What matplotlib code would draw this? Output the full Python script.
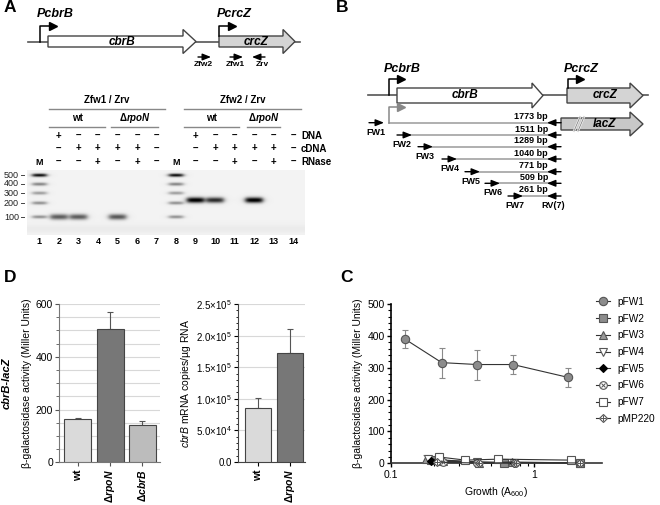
import numpy as np
import matplotlib
matplotlib.use("Agg")
from matplotlib import pyplot as plt
from matplotlib.patches import Polygon
from matplotlib.ticker import MultipleLocator, FuncFormatter, NullFormatter
from matplotlib.legend_handler import HandlerTuple

plt.rcParams['font.family'] = ['Liberation Sans', 'DejaVu Sans']
plt.rcParams['mathtext.fontset'] = 'custom'
plt.rcParams['mathtext.rm'] = 'Liberation Sans'
plt.rcParams['mathtext.it'] = 'Liberation Sans:italic'
plt.rcParams['mathtext.bf'] = 'Liberation Sans:bold'
plt.rcParams['mathtext.bfit'] = 'Liberation Sans:italic:bold'

W, H = 660, 505

# ---- gel (panel A) ----
lane_numbers = list(range(1, 15))
marker_lanes = [1, 8]
ladder_sizes = [500, 400, 300, 200, 100]
ladder_strength = [0.95, 0.45, 0.35, 0.4, 0.4]
dna_signs = ['+', '–', '–', '–', '–', '–']
cdna_signs = ['–', '+', '+', '+', '+', '–']
rnase_signs = ['–', '–', '+', '–', '+', '–']
product_lanes = [2, 3, 5, 9, 10, 12]
product_sizes = [90, 90, 90, 225, 225, 225]
product_strength = [0.6, 0.6, 0.62, 1.0, 0.8, 1.0]

# ---- fragments (panel B) ----
fragment_names = ['FW1', 'FW2', 'FW3', 'FW4', 'FW5', 'FW6', 'FW7']
fragment_bp = ['1773 bp', '1511 bp', '1289 bp', '1040 bp', '771 bp', '509 bp', '261 bp']

# ---- panel C ----
series = ['pFW1', 'pFW2', 'pFW3', 'pFW4', 'pFW5', 'pFW6', 'pFW7', 'pMP220']
growth = {
    'pFW1': [0.125, 0.226, 0.40, 0.71, 1.71],
    'pFW2': [0.19, 0.61, 2.1],
    'pFW3': [0.175, 0.23, 0.41, 0.70, 2.1],
    'pFW4': [0.18, 0.40, 0.72],
    'pFW5': [0.19, 0.40, 0.72],
    'pFW6': [0.23, 0.40, 0.73],
    'pFW7': [0.215, 0.33, 0.56, 1.8],
    'pMP220': [0.21, 0.41, 0.74, 2.1],
}
activity = {
    'pFW1': [390, 316, 310, 310, 270],
    'pFW2': [10, 2, 1],
    'pFW3': [15, 8, 2, 4, 1],
    'pFW4': [14, 3, 2],
    'pFW5': [8, 1, 1],
    'pFW6': [4, 2, 2],
    'pFW7': [20, 10, 13, 10],
    'pMP220': [3, 1, 2, 1],
}
activity_err = {
    'pFW1': [28, 47, 47, 31, 30],
    'pFW2': [3, 1, 1],
    'pFW3': [10, 3, 1, 2, 1],
    'pFW4': [8, 2, 1],
    'pFW5': [2, 1, 1],
    'pFW6': [2, 1, 1],
    'pFW7': [12, 3, 3, 2],
    'pMP220': [1, 1, 1, 1],
}

# ---- panel D ----
strains_lacz = ['wt', r'$\mathbf{\Delta}\mathbfit{rpoN}$', r'$\mathbf{\Delta}\mathbfit{cbrB}$']
lacz_activity = [165, 507, 140]
lacz_err = [3, 63, 18]
strains_mrna = ['wt', r'$\mathbf{\Delta}\mathbfit{rpoN}$']
mrna_copies = [8.6e4, 1.73e5]
mrna_err = [1.5e4, 3.7e4]


def px_axes(fig, l, t, r, b):
    return fig.add_axes([l / W, 1 - b / H, (r - l) / W, (b - t) / H])


def gene(ax, x0, head, tip, yc, bh, hh, fc):
    pts = [(x0, yc - bh), (head, yc - bh), (head, yc - hh), (tip, yc),
           (head, yc + hh), (head, yc + bh), (x0, yc + bh)]
    ax.add_patch(Polygon(pts, closed=True, fc=fc, ec='#444444', lw=1.0, zorder=3))


def promoter(ax, x, ybase, ytop, xend, color='black'):
    ax.plot([x, x, xend - 4], [ybase, ytop, ytop], color=color, lw=1.1, zorder=4)
    ax.plot([xend - 2], [ytop], marker='>', ms=5.5, color=color, mec=color, zorder=4)


def primer(ax, x0, x1, y, color='black', lw=1.0):
    ax.annotate('', xy=(x1, y), xytext=(x0, y),
                arrowprops=dict(arrowstyle='-|>,head_length=0.5,head_width=0.2',
                                color=color, lw=lw, shrinkA=0, shrinkB=0), zorder=5)


fig = plt.figure(figsize=(6.6, 5.05), dpi=100)

ov = fig.add_axes([0, 0, 1, 1])
ov.axis('off')

bold = dict(fontweight='bold')
for lab, x, y in [('A', 4, 8), ('B', 336, 8), ('C', 340, 277), ('D', 4, 278)]:
    ov.text(x, y, lab, fontsize=12.5, ha='left', va='center', **bold)

# ===== panel A diagram =====
ov.plot([28, 300], [42, 42], color='#555555', lw=1.2, zorder=1)
gene(ov, 48, 183, 196, 41.5, 5.5, 12, 'white')
gene(ov, 219, 283, 295, 41.5, 5.5, 12, '#d4d4d4')
ov.text(122, 42, 'cbrB', fontsize=8.5, ha='center', va='center', style='italic', zorder=5, **bold)
ov.text(256, 42, 'crcZ', fontsize=8.5, ha='center', va='center', style='italic', zorder=5, **bold)
promoter(ov, 40, 42, 26, 55)
promoter(ov, 219, 36, 26, 234)
ov.text(37, 14, 'PcbrB', fontsize=9, style='italic', va='center', **bold)
ov.text(217, 14, 'PcrcZ', fontsize=9, style='italic', va='center', **bold)
primer(ov, 198, 211, 57)
primer(ov, 230, 243, 57)
primer(ov, 265, 252, 57)
for t, x in [('Zfw2', 203), ('Zfw1', 235), ('Zrv', 262)]:
    ov.text(x, 65, t, fontsize=6, ha='center', va='center', **bold)

# gel header
ov.text(107, 100, 'Zfw1 / Zrv', fontsize=7, ha='center', va='center', **bold)
ov.text(243, 100, 'Zfw2 / Zrv', fontsize=7, ha='center', va='center', **bold)
ov.plot([49, 165], [109, 109], color='#888888', lw=1)
ov.plot([184, 301], [109, 109], color='#888888', lw=1)
for x0, x1, lab in [(49, 105, 'wt'), (111, 158, r'$\mathbf{\Delta}\mathbfit{rpoN}$'),
                    (184, 239, 'wt'), (247, 280, r'$\mathbf{\Delta}\mathbfit{rpoN}$')]:
    ov.plot([x0, x1], [127, 127], color='#888888', lw=1)
    ov.text((x0 + x1) / 2, 118, lab, fontsize=7, ha='center', va='center', **bold)

lane_x = {n: 39.3 + (n - 1) * 19.54 for n in lane_numbers}
sample_lanes = [2, 3, 4, 5, 6, 7]
for block in (0, 7):
    for i, n in enumerate(sample_lanes):
        x = lane_x[n + block]
        ov.text(x, 136, dna_signs[i], fontsize=7, ha='center', va='center', **bold)
        ov.text(x, 148.5, cdna_signs[i], fontsize=7, ha='center', va='center', **bold)
        ov.text(x, 162, rnase_signs[i], fontsize=7, ha='center', va='center', **bold)
for n in marker_lanes:
    ov.text(lane_x[n], 162.5, 'M', fontsize=6.5, ha='center', va='center', **bold)
for t, y in [('DNA', 136), ('cDNA', 148.5), ('RNase', 162)]:
    ov.text(301, y, t, fontsize=7, ha='left', va='center', **bold)
for n in lane_numbers:
    ov.text(lane_x[n], 242, str(n), fontsize=6.5, ha='center', va='center', **bold)

# gel image
ladder_y = [175, 184, 193, 203, 217]
ladder_map = dict(zip(ladder_sizes, ladder_y))


def size_to_y(s):
    lg = np.log10(ladder_sizes[::-1])
    return float(np.interp(np.log10(s), lg, ladder_y[::-1]))


gx = np.linspace(27, 305, 556)
gy = np.linspace(170, 235, 130)
GX, GY = np.meshgrid(gx, gy)
gel = np.full_like(GX, 0.95)
gel -= 0.03 * np.exp(-((GY - 229) / 4) ** 2)


def band(lane, y, strength, hw=8.0, sig=2.4):
    xs = 1 / (1 + np.exp((np.abs(GX - lane_x[lane]) - hw) / 1.5))
    return strength * xs * np.exp(-((GY - y) / sig) ** 2)


for n in marker_lanes:
    for s, k in zip(ladder_sizes, ladder_strength):
        gel -= band(n, ladder_map[s], k, hw=7.0, sig=1.6)
for n, s, k in zip(product_lanes, product_sizes, product_strength):
    gel -= band(n, size_to_y(s), k, hw=8.5, sig=2.8)
gel = np.clip(gel, 0, 1)
ov.imshow(gel, cmap='gray', vmin=0, vmax=1, extent=(27, 305, 235, 170),
          aspect='auto', interpolation='bilinear', zorder=0)
ov.set_xlim(0, W)
ov.set_ylim(H, 0)
for s, y in zip(ladder_sizes, ladder_y):
    ov.text(19, y, str(s), fontsize=6.5, ha='right', va='center', color='#222222')
    ov.plot([21, 24], [y, y], color='#444444', lw=0.7)

# ===== panel B diagram =====
ov.plot([368, 648], [95, 95], color='#555555', lw=1.2, zorder=1)
gene(ov, 397, 532, 543, 95.5, 7.5, 12.5, 'white')
gene(ov, 567, 630, 643, 95.5, 7.5, 12.5, '#d4d4d4')
ov.text(465, 95.5, 'cbrB', fontsize=8.5, ha='center', va='center', style='italic', zorder=5, **bold)
ov.text(605, 95.5, 'crcZ', fontsize=8.5, ha='center', va='center', style='italic', zorder=5, **bold)
promoter(ov, 388.5, 95, 79, 403)
promoter(ov, 567.5, 88, 79, 582)
ov.text(384, 69, 'PcbrB', fontsize=9, style='italic', va='center', **bold)
ov.text(564, 69, 'PcrcZ', fontsize=9, style='italic', va='center', **bold)
promoter(ov, 388.5, 122.7, 107, 403, color='#888888')
gene(ov, 561, 630, 643, 124, 6, 12, '#c8c8c8')
for dx in (0, 4):
    ov.plot([574 + dx, 580 + dx], [131, 117], color='#f0f0f0', lw=1.6, zorder=6)
    ov.plot([574 + dx, 580 + dx], [131, 117], color='#777777', lw=0.5, zorder=6)
ov.text(604, 124, 'lacZ', fontsize=8.5, ha='center', va='center', style='italic', zorder=7, **bold)

row_y = [122.7, 135, 146.7, 159, 171.7, 183.3, 196]
fw_x = [369, 397, 418, 442, 465, 485, 508]
label_x = [376, 402, 425, 450, 471, 493, 515]
for i, (name, bp) in enumerate(zip(fragment_names, fragment_bp)):
    y = row_y[i]
    x0 = fw_x[i]
    start = 388.5 if i == 0 else x0 + 14
    ov.plot([start, 555], [y, y], color='#9a9a9a', lw=1.1, zorder=2)
    primer(ov, x0, x0 + 15, y)
    primer(ov, 561, 547, y)
    ov.text(548, y - 6, bp, fontsize=6.5, ha='right', va='center', **bold)
    ov.text(label_x[i], y + 9.5, name, fontsize=6.5, ha='center', va='center', **bold)
ov.text(553, 205.7, 'RV(7)', fontsize=6.5, ha='center', va='center', **bold)

# ===== panel C =====
axc = px_axes(fig, 391, 304, 602, 463.3)
axc.set_xscale('log')
axc.set_xlim(0.1, 2.97)
axc.set_ylim(0, 500)
styles = {
    'pFW1': [dict(marker='o', mfc='#8c8c8c', mec='#555555', ms=6)],
    'pFW2': [dict(marker='s', mfc='#8c8c8c', mec='#555555', ms=5.5)],
    'pFW3': [dict(marker='^', mfc='#9a9a9a', mec='#555555', ms=5.5)],
    'pFW4': [dict(marker='v', mfc='white', mec='#555555', ms=5.5)],
    'pFW5': [dict(marker='D', mfc='black', mec='black', ms=4)],
    'pFW6': [dict(marker='o', mfc='white', mec='#555555', ms=5.5),
             dict(marker='x', mfc='none', mec='#555555', ms=3.5)],
    'pFW7': [dict(marker='s', mfc='white', mec='#555555', ms=5.5)],
    'pMP220': [dict(marker='D', mfc='white', mec='#555555', ms=4.5),
               dict(marker='+', mfc='none', mec='#555555', ms=4.5)],
}
handles = []
for s in series:
    x = growth[s]
    y = activity[s]
    axc.errorbar(x, y, yerr=activity_err[s], fmt='none', ecolor='#8a8a8a',
                 elinewidth=0.8, capsize=2.5, capthick=0.8, zorder=3, clip_on=False)
    st = styles[s]
    h0, = axc.plot(x, y, color='#333333', lw=0.8, mew=0.8, zorder=4, clip_on=False, **st[0])
    parts = [h0]
    for extra in st[1:]:
        h1, = axc.plot(x, y, ls='none', mew=0.7, zorder=5, clip_on=False, **extra)
        parts.append(h1)
    handles.append(tuple(parts))
axc.legend(handles, series, handler_map={tuple: HandlerTuple(ndivide=1, pad=0)},
           loc='upper left', bbox_to_anchor=(596 / W, 1 - 297 / H),
           bbox_transform=fig.transFigure, frameon=False, fontsize=7.3,
           handlelength=1.4, handletextpad=0.7, labelspacing=0.66, borderaxespad=0,
           borderpad=0)
for sp in ('top', 'right'):
    axc.spines[sp].set_visible(False)
axc.spines['left'].set_linewidth(1.2)
axc.spines['bottom'].set_linewidth(1.2)
axc.spines['bottom'].set_color('#333333')
axc.yaxis.set_major_locator(MultipleLocator(100))
axc.yaxis.set_minor_locator(MultipleLocator(20))
axc.xaxis.set_major_formatter(FuncFormatter(lambda v, p: '%g' % v))
axc.xaxis.set_minor_formatter(NullFormatter())
axc.tick_params(labelsize=7.5, length=3, width=1, pad=1.5)
axc.tick_params(which='minor', length=2, width=0.8)
axc.set_ylabel('β-galactosidase activity (Miller Units)', fontsize=7.5, labelpad=3)
axc.set_xlabel('Growth (A$_{600}$)', fontsize=7.5, labelpad=4)

# ===== panel D left =====
axd = px_axes(fig, 59.3, 304, 160, 462.3)
pos = np.arange(len(strains_lacz))
axd.bar(pos, lacz_activity, width=0.84, color=['#dadada', '#777777', '#bcbcbc'],
        edgecolor='#444444', lw=0.8, zorder=3)
axd.errorbar(pos, lacz_activity, yerr=[[0] * 3, lacz_err], fmt='none', ecolor='#555555',
             elinewidth=0.8, capsize=2.5, capthick=0.8, zorder=2)
axd.set_xlim(-0.58, 2.55)
axd.set_ylim(0, 600)
axd.yaxis.set_major_locator(MultipleLocator(200))
axd.yaxis.set_minor_locator(MultipleLocator(50))
axd.grid(axis='y', which='both', color='#d8d8d8', lw=0.8, zorder=0)
axd.set_axisbelow(True)
for sp in ('top', 'right'):
    axd.spines[sp].set_visible(False)
axd.spines['left'].set_color('#777777')
axd.spines['bottom'].set_color('#777777')
axd.set_xticks(pos)
axd.set_xticklabels(strains_lacz, rotation=90, fontsize=7.5, fontweight='bold')
axd.tick_params(axis='y', labelsize=7.5, length=3, pad=1.5, color='#555555')
axd.tick_params(axis='y', which='minor', length=2, color='#555555')
axd.tick_params(axis='x', length=3, pad=2, color='#555555')
axd.set_ylabel('β-galactosidase activity (Miller Units)', fontsize=7.5, labelpad=3)
fig.text(7 / W, 1 - 383 / H, 'cbrB-lacZ', rotation=90, fontsize=8, fontweight='bold',
         style='italic', ha='center', va='center')

# ===== panel D right =====
axr = px_axes(fig, 238.3, 304, 305, 462)
pos2 = np.arange(len(strains_mrna))
axr.bar(pos2, mrna_copies, width=0.8, color=['#dadada', '#777777'],
        edgecolor='#444444', lw=0.8, zorder=3)
axr.errorbar(pos2, mrna_copies, yerr=[[0, 0], mrna_err], fmt='none', ecolor='#555555',
             elinewidth=0.8, capsize=2.5, capthick=0.8, zorder=2)
axr.set_xlim(-0.6, 1.45)
axr.set_ylim(0, 2.5e5)
axr.yaxis.set_major_locator(MultipleLocator(5e4))
axr.yaxis.set_minor_locator(MultipleLocator(1e4))


def sci(v, p):
    if v <= 0:
        return '0.0'
    e = int(np.floor(np.log10(v)))
    return r'$%.1f{\times}10^{%d}$' % (v / 10 ** e, e)


axr.yaxis.set_major_formatter(FuncFormatter(sci))
axr.grid(axis='y', which='major', color='#d8d8d8', lw=0.8, zorder=0)
axr.set_axisbelow(True)
for sp in ('top', 'right'):
    axr.spines[sp].set_visible(False)
axr.spines['left'].set_color('#444444')
axr.spines['bottom'].set_color('#444444')
axr.set_xticks(pos2)
axr.set_xticklabels(strains_mrna, rotation=90, fontsize=7.5, fontweight='bold')
axr.tick_params(axis='y', labelsize=7, length=3, pad=1.5)
axr.tick_params(axis='y', which='minor', length=1.5)
axr.tick_params(axis='x', length=3, pad=2)
axr.set_ylabel(r'$\mathit{cbrB}$ mRNA copies/µg RNA', fontsize=7.5, labelpad=2)

fig.savefig('out.png', dpi=100)
